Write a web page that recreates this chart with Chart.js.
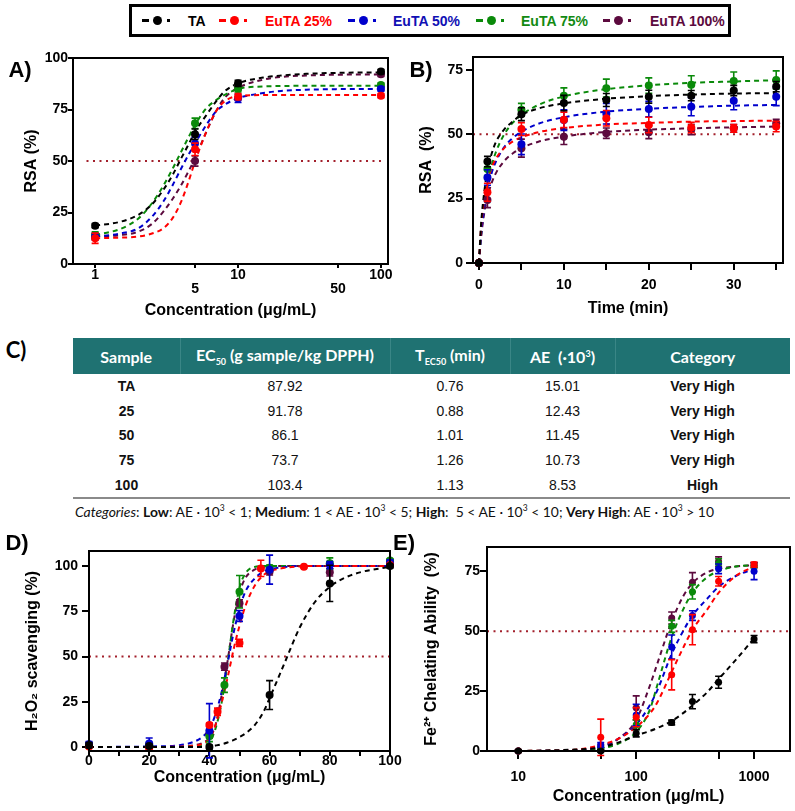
<!DOCTYPE html>
<html>
<head>
<meta charset="utf-8">
<script src="https://cdn.jsdelivr.net/npm/chart.js@4.4.1/dist/chart.umd.min.js"></script>
<style>
  html, body { margin: 0; padding: 0; background: #fff; }
  #page { position: relative; width: 795px; height: 811px; overflow: hidden; font-family: "Liberation Sans", Arial, sans-serif; }
  canvas { position: absolute; }
  .lbl { position: absolute; font-weight: bold; font-size: 22px; line-height: 1; transform: translate(-50%, -50%); }
  #legend { position: absolute; left: 129px; top: 4px; width: 596px; height: 27px; border: 3px solid #000; }
  .sym, .txt { position: absolute; top: 0; height: 27px; display: flex; align-items: center; }
  .sym i { display: inline-block; background: currentColor; }
  .sym .dash { width: 7px; height: 3px; }
  .sym .dot { width: 9px; height: 9px; border-radius: 50%; margin-left: 4px; }
  .sym .pt { width: 3px; height: 3px; margin-left: 5px; }
  .txt { font-weight: bold; font-size: 14px; white-space: nowrap; }
  #tableC { position: absolute; left: 73px; top: 338px; width: 717px; border-collapse: collapse; table-layout: fixed; }
  #tableC th { background: #1f7272; color: #fff; font-family: Lato, "Open Sans", sans-serif; font-weight: bold; font-size: 16px; height: 36px; padding: 0; border-left: 1px solid #3a8686; }
  #tableC th:first-child { border-left: none; }
  #tableC th sub { font-size: 9px; }
  #tableC th sup { font-size: 9px; }
  #tableC td { font-size: 14px; height: 24.6px; padding: 0; text-align: center; color: #111; }
  #tableC td.b { font-weight: bold; }
  #tableC tr:last-child td { border-bottom: 2px solid #8a8a8a; }
  #foot { position: absolute; left: 75px; top: 503px; font-family: Lato, "Open Sans", sans-serif; font-size: 13.9px; white-space: nowrap; color: #111; }
  #foot sup { font-size: 8.5px; }
</style>
</head>
<body>
<div id="page">
  <div id="legend"></div>

  <canvas id="chartA"></canvas>
  <canvas id="chartB"></canvas>
  <canvas id="chartD"></canvas>
  <canvas id="chartE"></canvas>

  <div class="lbl" style="left:20px;top:70px">A)</div>
  <div class="lbl" style="left:421px;top:70px">B)</div>
  <div class="lbl" style="left:16px;top:350px;font-family:Lato,'Open Sans',sans-serif">C)</div>
  <div class="lbl" style="left:17px;top:543px">D)</div>
  <div class="lbl" style="left:404px;top:543px">E)</div>

  <table id="tableC">
    <colgroup><col style="width:107px"><col style="width:210px"><col style="width:120px"><col style="width:105px"><col style="width:175px"></colgroup>
    <thead><tr>
      <th>Sample</th>
      <th>EC<sub>50</sub> (g sample/kg DPPH)</th>
      <th>T<sub>EC50</sub> (min)</th>
      <th>AE&nbsp; (·10<sup>3</sup>)</th>
      <th>Category</th>
    </tr></thead>
    <tbody id="tbody"></tbody>
  </table>
  <div id="foot"><i>Categories</i>: <b>Low</b>: AE · 10<sup>3</sup> &lt; 1; <b>Medium</b>: 1 &lt; AE · 10<sup>3</sup> &lt; 5; <b>High</b>:&nbsp; 5 &lt; AE · 10<sup>3</sup> &lt; 10; <b>Very High</b>: AE · 10<sup>3</sup> &gt; 10</div>
</div>

<script>
// ---- series names / colours ----
const SERIES_NAMES = ['TA', 'EuTA 25%', 'EuTA 50%', 'EuTA 75%', 'EuTA 100%'];
const SERIES_COLORS = ['#000000', '#ff0000', '#0000cc', '#0a8a0a', '#5c0a3e'];
const LEGEND_TEXT_COLORS = ['#000000', '#ff0000', '#1010b4', '#128a12', '#5c0a3e'];

// ---- A) DPPH RSA vs concentration ----
const A_CONC = [1, 5, 10, 100];
const A_TA = [18.6, 63.0, 87.7, 93.4];
const A_25 = [12.5, 55.7, 81.2, 81.7];
const A_50 = [13.3, 58.5, 80.4, 85.0];
const A_75 = [14.1, 68.3, 85.0, 86.9];
const A_100 = [13.3, 50.0, 86.0, 92.1];
const A_ERR_TA = [1, 2.5, 1.5, 1];
const A_ERR_25 = [2.5, 3, 1.5, 1];
const A_ERR_50 = [1.5, 3, 2, 1];
const A_ERR_75 = [1.5, 2.5, 1.5, 1];
const A_ERR_100 = [1.5, 2.5, 1.5, 1];
const A_FIT_X = [1, 1.5, 2, 2.5, 3, 3.5, 4, 4.5, 5, 6, 7, 8, 10, 15, 20, 30, 50, 100];
const A_FIT_TA = [18.6, 20.5, 23.8, 29, 36, 43.5, 51.3, 58, 64.2, 72.3, 78.8, 83.6, 87.7, 90.5, 91.5, 92.3, 92.8, 93];
const A_FIT_25 = [12.5, 12.8, 13.3, 14.8, 17.3, 22.5, 30.3, 40, 49.7, 64.2, 74, 78.8, 81.5, 82, 82, 82, 82, 82];
const A_FIT_50 = [13.3, 14.8, 17.3, 23, 30.3, 38.5, 46.4, 53, 58.6, 67.5, 74, 77.2, 80.5, 83, 84, 84.6, 84.9, 85];
const A_FIT_75 = [14.1, 17, 22, 29.5, 38, 46.5, 54.5, 61.5, 67.5, 75.6, 79.5, 82, 85, 86.2, 86.4, 86.5, 86.5, 86.5];
const A_FIT_100 = [13.3, 14, 15.7, 19.5, 25.4, 31.8, 38.3, 45, 51.3, 64.2, 74, 80.4, 85.5, 89.5, 90.8, 91.5, 91.9, 92];
const A_XTICKS = [1, 5, 10, 50, 100];
const A_XLABELS_LOW = [5, 50];
const A_YTICKS = [0, 25, 50, 75, 100];

// ---- B) RSA vs time ----
const B_TIME = [0, 1, 5, 10, 15, 20, 25, 30, 35];
const B_TA = [0, 39.4, 57.8, 62.1, 63.3, 64.6, 65.0, 67.0, 68.5];
const B_25 = [0, 27.5, 52.0, 55.6, 56.2, 53.6, 52.6, 52.3, 53.0];
const B_50 = [0, 33.2, 46.1, 55.5, 58.0, 59.8, 60.7, 63.0, 64.6];
const B_75 = [0, 36.5, 59.5, 65.0, 67.9, 68.9, 69.2, 70.7, 71.1];
const B_100 = [0, 24.5, 44.6, 49.0, 50.4, 50.8, 51.8, 52.3, 54.3];
const B_ERR_TA = [0, 2, 2.5, 3, 2.5, 2.5, 2, 2, 2];
const B_ERR_25 = [0, 3.5, 2.5, 3, 3, 3, 2, 1.5, 2];
const B_ERR_50 = [0, 3, 4, 4, 4, 3, 3.5, 3.5, 3.5];
const B_ERR_75 = [0, 2.5, 2.5, 3, 3.5, 3, 3.5, 3.5, 3.5];
const B_ERR_100 = [0, 3, 3.5, 3, 2, 2.5, 2, 1.5, 1.5];
const B_FIT_X = [0, 0.25, 0.5, 1, 1.5, 2, 3, 4, 5, 7, 10, 15, 20, 25, 30, 35];
const B_FIT_TA = [0, 15, 24, 36, 42.5, 47, 52, 55, 57.5, 60, 62, 63.8, 64.8, 65.4, 65.8, 66];
const B_FIT_25 = [0, 13.5, 21.9, 31.5, 37, 40.5, 44.7, 47.2, 48.8, 50.8, 52.4, 53.8, 54.4, 54.9, 55.1, 55.3];
const B_FIT_50 = [0, 10.7, 18.4, 28.5, 35, 39.4, 45.1, 48.6, 51, 54.1, 56.6, 58.8, 59.9, 60.6, 61.1, 61.4];
const B_FIT_75 = [0, 11, 19.2, 30.5, 37.9, 43.1, 50.1, 54.5, 57.5, 61.4, 64.7, 67.5, 69, 70, 70.5, 71];
const B_FIT_100 = [0, 9.9, 16.7, 25.6, 31.1, 34.9, 39.7, 42.6, 44.6, 47.1, 49.1, 50.9, 51.8, 52.3, 52.7, 53];
const B_XTICKS = [0, 5, 10, 15, 20, 25, 30, 35];
const B_XLABELS = [0, 10, 20, 30];
const B_YTICKS = [0, 25, 50, 75];

// ---- D) H2O2 scavenging ----
const D_CONC = [0, 20, 40, 45, 50, 60, 80, 100];
const D_CONC_25 = [0, 20, 40, 42.7, 50, 57.1, 71.4, 100];
const D_TA = [1, 0.5, 0, null, null, 28.7, 90.4, 100];
const D_25 = [0.3, -0.5, 12.2, 19.5, 57.5, 98.7, 99.6, 100.5];
const D_50 = [1.5, 2, 9, null, 72.4, 98, 100.5, 102];
const D_75 = [1, 1, 6, 34.2, 85.8, 99, 101.5, 103];
const D_100 = [1, 1, 7, 44.4, 79.4, 97, 96.5, 102];
const D_ERR_TA = [1.5, 1, 1, 0, 0, 8, 10, 1];
const D_ERR_25 = [0.5, 0.5, 1, 2, 2, 4.5, 0.5, 0.5];
const D_ERR_50 = [1.5, 3, 15, 0, 3, 8, 2, 1.5];
const D_ERR_75 = [1, 1.5, 3, 4, 9, 1.5, 3, 1];
const D_ERR_100 = [1, 1, 2, 2, 2, 2, 2, 1];
const D_FIT_X = [0, 20, 30, 35, 38, 40, 42, 44, 46, 48, 50, 52, 55, 58, 60, 65, 70, 75, 80, 85, 90, 100];
const D_FIT_TA = [0, 0, 0, 0, 0, 0.2, 0.8, 1.5, 2.5, 3.8, 5.5, 7.5, 12, 19.5, 27, 46.5, 66, 80, 88.5, 93.5, 96.5, 99.6];
const D_FIT_25 = [0, 0, 0.2, 0.6, 2, 4.5, 12, 24, 38, 53.6, 67, 78, 89, 95, 97, 99, 99.8, 100, 100, 100, 100, 100];
const D_FIT_50 = [0, 0.3, 1, 3, 6, 10, 18, 30, 46, 62.8, 76.5, 86, 93, 97, 98.2, 99.5, 100, 100, 100, 100, 100, 100];
const D_FIT_75 = [0, 0, 0.1, 0.5, 1.2, 2.5, 10, 24, 46, 70, 88, 96, 99.5, 100, 100, 100, 100, 100, 100, 100, 100, 100];
const D_FIT_100 = [0, 0, 0.2, 1, 2.5, 5, 12, 28, 47, 69, 85, 93.5, 98, 99.5, 100, 100, 100, 100, 100, 100, 100, 100];
const D_XTICKS = [0, 10, 20, 30, 40, 50, 60, 70, 80, 90, 100];
const D_XLABELS = [0, 20, 40, 60, 80, 100];
const D_YTICKS = [0, 25, 50, 75, 100];

// ---- E) Fe2+ chelating ability ----
const E_CONC = [10, 50, 100, 200, 300, 500, 1000];
const E_TA = [0, 0, 7.4, 11.9, 20.6, 28.7, 46.7];
const E_25 = [0, 5.7, 14.1, 31.8, 50.6, 70.8, 77.8];
const E_50 = [0, 2.5, 15, 43.4, 56.5, 76, 75];
const E_75 = [0, 1, 11, 52, 66.4, 78.2, 77.5];
const E_100 = [0, 1.5, 18, 55.5, 70.4, 79, 77.5];
const E_ERR_TA = [0.5, 0.5, 1.5, 1, 3, 2.5, 1.5];
const E_ERR_25 = [0.5, 7.6, 4, 6.3, 6.3, 2, 1];
const E_ERR_50 = [0.5, 1, 4.5, 5, 2, 2, 3.5];
const E_ERR_75 = [0.5, 0.5, 2, 2.5, 3, 2, 1];
const E_ERR_100 = [0.5, 1, 5, 2.5, 4, 2, 1];
const E_FIT_X = [10, 20, 30, 50, 70, 100, 130, 150, 200, 250, 300, 400, 500, 700, 1000];
const E_FIT_TA = [0, 0.3, 0.6, 1.5, 3.5, 6.5, 8.3, 9.5, 12.5, 15.8, 19, 24.5, 30, 38, 47];
const E_FIT_25 = [0, 0.2, 0.5, 2.5, 5, 10, 15.5, 20, 33, 43, 50.5, 59, 66, 73, 77];
const E_FIT_50 = [0, 0.1, 0.3, 2, 5, 11, 19, 25, 40.5, 50, 56.5, 63.5, 68.5, 73, 76];
const E_FIT_75 = [0, 0, 0.1, 1, 3, 8, 17, 27, 47.5, 59, 66, 72.5, 75, 77, 77.5];
const E_FIT_100 = [0, 0, 0.2, 1.5, 5, 13, 27, 36, 54, 64.5, 70, 74.5, 76, 77, 77.5];
const E_XTICKS = [10, 50, 100, 500, 1000];
const E_XLABELS = [10, 100, 1000];
const E_YTICKS = [0, 25, 50, 75];

// ---- C) table ----
const TABLE_SAMPLE = ['TA', '25', '50', '75', '100'];
const TABLE_EC50 = ['87.92', '91.78', '86.1', '73.7', '103.4'];
const TABLE_TEC50 = ['0.76', '0.88', '1.01', '1.26', '1.13'];
const TABLE_AE = ['15.01', '12.43', '11.45', '10.73', '8.53'];
const TABLE_CATEGORY = ['Very High', 'Very High', 'Very High', 'Very High', 'High'];

const THRESHOLD = 50;
const FONT = '"Liberation Sans", Arial, sans-serif';

// legend (drawn in html)
function hasFont(name) {
  const c = document.createElement('canvas').getContext('2d');
  c.font = 'bold 20px monospace';
  const w0 = c.measureText('EuTA 100% mmm').width;
  c.font = 'bold 20px "' + name + '", monospace';
  return c.measureText('EuTA 100% mmm').width !== w0;
}
const narrow = hasFont('Liberation Sans Narrow');
const legend = document.getElementById('legend');
const symLeft = [10, 87, 216, 344, 471];
const txtLeft = [56, 133, 261, 389, 518];
SERIES_NAMES.forEach((name, i) => {
  const s = document.createElement('div');
  s.className = 'sym';
  s.style.left = symLeft[i] + 'px';
  s.style.color = SERIES_COLORS[i];
  s.innerHTML = '<i class="dash"></i><i class="dot"></i><i class="pt"></i>';
  legend.appendChild(s);
  const t = document.createElement('div');
  t.className = 'txt';
  t.style.left = txtLeft[i] + 'px';
  t.style.color = LEGEND_TEXT_COLORS[i];
  if (narrow) { t.style.fontFamily = '"Liberation Sans Narrow"'; t.style.fontSize = '16.5px'; }
  t.textContent = name;
  legend.appendChild(t);
});

// table rows
const tbody = document.getElementById('tbody');
TABLE_SAMPLE.forEach((s, i) => {
  const tr = document.createElement('tr');
  tr.innerHTML = `<td class="b">${s}</td><td>${TABLE_EC50[i]}</td><td>${TABLE_TEC50[i]}</td><td>${TABLE_AE[i]}</td><td class="b">${TABLE_CATEGORY[i]}</td>`;
  tbody.appendChild(tr);
});

// ---- plugins ----
const frame = {
  id: 'frame',
  afterDraw(chart) {
    const { ctx, chartArea: a } = chart;
    ctx.save();
    ctx.strokeStyle = '#000';
    ctx.lineWidth = 2;
    ctx.strokeRect(a.left, a.top, a.right - a.left, a.bottom - a.top);
    ctx.restore();
  }
};

const errorBars = {
  id: 'errorBars',
  afterDatasetDraw(chart, args) {
    const ds = chart.data.datasets[args.index];
    if (!ds.hasErrors) return;
    const { ctx } = chart;
    const y = chart.scales.y;
    ctx.save();
    ctx.strokeStyle = ds.borderColor;
    ctx.lineWidth = 1.6;
    args.meta.data.forEach((el, j) => {
      const p = ds.data[j];
      if (!p.e) return;
      const top = y.getPixelForValue(p.y + p.e);
      const bot = y.getPixelForValue(p.y - p.e);
      ctx.beginPath();
      ctx.moveTo(el.x, top); ctx.lineTo(el.x, bot);
      ctx.moveTo(el.x - 3.5, top); ctx.lineTo(el.x + 3.5, top);
      ctx.moveTo(el.x - 3.5, bot); ctx.lineTo(el.x + 3.5, bot);
      ctx.stroke();
    });
    ctx.restore();
  }
};

// ---- dataset helpers ----
function pointSet(xs, ys, es, color, r) {
  const data = [];
  xs.forEach((x, i) => { if (ys[i] !== null) data.push({ x: x, y: ys[i], e: es[i] }); });
  return {
    data: data, showLine: false, hasErrors: true,
    pointRadius: r, pointBackgroundColor: color, pointBorderColor: color, pointBorderWidth: 0,
    borderColor: color, clip: false
  };
}
function fitSet(xs, ys, color) {
  return {
    data: xs.map((x, i) => ({ x: x, y: ys[i] })),
    showLine: true, pointRadius: 0, borderColor: color, borderWidth: 2,
    borderDash: [5, 4], cubicInterpolationMode: 'monotone', clip: false
  };
}
function refSet(x0, x1) {
  return {
    data: [{ x: x0, y: THRESHOLD }, { x: x1, y: THRESHOLD }],
    showLine: true, pointRadius: 0, borderColor: '#a3202c', borderWidth: 2, borderDash: [2, 4.5]
  };
}
function seriesSets(xs, pts, errs, fitX, fits, r, xsList) {
  const sets = [];
  pts.forEach((ys, i) => sets.push(pointSet(xsList ? xsList[i] : xs, ys, errs[i], SERIES_COLORS[i], r)));
  fits.forEach((ys, i) => sets.push(fitSet(fitX, ys, SERIES_COLORS[i])));
  return sets;
}

function buildChart(id, spec) {
  const canvas = document.getElementById(id);
  const b = spec.box, a = spec.area;
  canvas.style.left = b.left + 'px';
  canvas.style.top = b.top + 'px';
  canvas.width = b.width;
  canvas.height = b.height;
  const tickFont = { family: FONT, size: 14, weight: 'bold', lineHeight: 1 };
  const titleFont = { family: FONT, size: 16, weight: 'bold', lineHeight: 1.2 };
  return new Chart(canvas, {
    type: 'line',
    data: { datasets: spec.datasets },
    options: {
      responsive: false,
      animation: false,
      events: [],
      layout: { padding: { left: 0, top: a.top - b.top, right: b.left + b.width - a.right, bottom: 0 } },
      plugins: { legend: { display: false }, tooltip: { enabled: false } },
      scales: {
        x: {
          type: spec.x.type, min: spec.x.min, max: spec.x.max, bounds: 'data',
          afterBuildTicks: s => { s.ticks = spec.x.ticks.map(v => ({ value: v })); },
          afterFit: s => { s.height = b.top + b.height - a.bottom; s.paddingLeft = 0; s.paddingRight = 0; },
          ticks: { autoSkip: false, maxRotation: 0, minRotation: 0, color: '#000', font: tickFont, padding: spec.x.pad, callback: spec.x.label },
          grid: { drawOnChartArea: false, tickLength: spec.x.tick, color: '#000', lineWidth: 2 },
          border: { color: '#000', width: 2 },
          title: { display: true, text: spec.x.title, color: '#000', font: titleFont,
                   padding: { top: 0, bottom: b.top + b.height - spec.x.titleY - 9.6 } }
        },
        y: {
          type: 'linear', min: spec.y.min, max: spec.y.max, bounds: 'data',
          afterBuildTicks: s => { s.ticks = spec.y.ticks.map(v => ({ value: v })); },
          afterFit: s => { s.width = a.left - b.left; s.paddingTop = 0; s.paddingBottom = 0; },
          ticks: { autoSkip: false, color: '#000', font: { family: FONT, size: 14, weight: 'bold' }, padding: spec.y.pad, callback: v => String(v) },
          grid: { drawOnChartArea: false, tickLength: spec.y.tick, color: '#000', lineWidth: 2 },
          border: { color: '#000', width: 2 },
          title: { display: true, text: spec.y.title, color: '#000', font: titleFont,
                   padding: { top: spec.y.titleX - b.left - 9.6, bottom: 0 } }
        }
      }
    },
    plugins: [frame, errorBars]
  });
}

// ---- A ----
const A_MIN = 0.70, A_MAX = 112;
buildChart('chartA', {
  box: { left: 0, top: 40, width: 400, height: 282 },
  area: { left: 73, top: 58, right: 388, bottom: 264 },
  x: { type: 'logarithmic', min: A_MIN, max: A_MAX, ticks: A_XTICKS, tick: 4, pad: 0, titleY: 311,
       title: 'Concentration (\u03bcg/mL)',
       label: v => A_XLABELS_LOW.includes(v) ? ['', String(v)] : String(v) },
  y: { min: 0, max: 100, ticks: A_YTICKS, tick: 5, pad: 0, titleX: 32, title: 'RSA (%)' },
  datasets: seriesSets(A_CONC, [A_TA, A_25, A_50, A_75, A_100],
    [A_ERR_TA, A_ERR_25, A_ERR_50, A_ERR_75, A_ERR_100], A_FIT_X,
    [A_FIT_TA, A_FIT_25, A_FIT_50, A_FIT_75, A_FIT_100], 4).concat([refSet(0.87, 100)])
});

// ---- B ----
const B_MIN = -0.7, B_MAX = 35.8;
buildChart('chartB', {
  box: { left: 400, top: 40, width: 395, height: 282 },
  area: { left: 473, top: 57, right: 783, bottom: 263 },
  x: { type: 'linear', min: B_MIN, max: B_MAX, ticks: B_XTICKS, tick: 7, pad: 8, titleY: 309,
       title: 'Time (min)', label: v => B_XLABELS.includes(v) ? String(v) : '' },
  y: { min: 0, max: 80, ticks: B_YTICKS, tick: 7, pad: 3, titleX: 427, title: 'RSA  (%)' },
  datasets: seriesSets(B_TIME, [B_TA, B_25, B_50, B_75, B_100],
    [B_ERR_TA, B_ERR_25, B_ERR_50, B_ERR_75, B_ERR_100], B_FIT_X,
    [B_FIT_TA, B_FIT_25, B_FIT_50, B_FIT_75, B_FIT_100], 4).concat([refSet(B_MIN, 35)])
});

// ---- D ----
buildChart('chartD', {
  box: { left: 0, top: 525, width: 410, height: 286 },
  area: { left: 89, top: 551, right: 390, bottom: 751 },
  x: { type: 'linear', min: 0, max: 100, ticks: D_XTICKS, tick: 5, pad: -2, titleY: 778,
       title: 'Concentration (\u03bcg/mL)', label: v => D_XLABELS.includes(v) ? String(v) : '' },
  y: { min: -2.2, max: 108.3, ticks: D_YTICKS, tick: 7, pad: 4, titleX: 33, title: 'H\u2082O\u2082 scavenging (%)' },
  datasets: seriesSets(null, [D_TA, D_25, D_50, D_75, D_100],
    [D_ERR_TA, D_ERR_25, D_ERR_50, D_ERR_75, D_ERR_100], D_FIT_X,
    [D_FIT_TA, D_FIT_25, D_FIT_50, D_FIT_75, D_FIT_100], 4,
    [D_CONC, D_CONC_25, D_CONC, D_CONC, D_CONC]).concat([refSet(0, 100)])
});

// ---- E ----
const E_MIN = 5.42, E_MAX = 2018;
buildChart('chartE', {
  box: { left: 400, top: 525, width: 395, height: 286 },
  area: { left: 487, top: 547, right: 790, bottom: 751 },
  x: { type: 'logarithmic', min: E_MIN, max: E_MAX, ticks: E_XTICKS, tick: 8, pad: 11, titleY: 797,
       title: 'Concentration (\u03bcg/mL)', label: v => E_XLABELS.includes(v) ? String(v) : '' },
  y: { min: 0, max: 85.1, ticks: E_YTICKS, tick: 7, pad: 0, titleX: 432, title: 'Fe\u00b2\u207a Chelating Ability  (%)' },
  datasets: seriesSets(E_CONC, [E_TA, E_25, E_50, E_75, E_100],
    [E_ERR_TA, E_ERR_25, E_ERR_50, E_ERR_75, E_ERR_100], E_FIT_X,
    [E_FIT_TA, E_FIT_25, E_FIT_50, E_FIT_75, E_FIT_100], 3.5).concat([refSet(E_MIN, E_MAX)])
});
</script>
</body>
</html>
